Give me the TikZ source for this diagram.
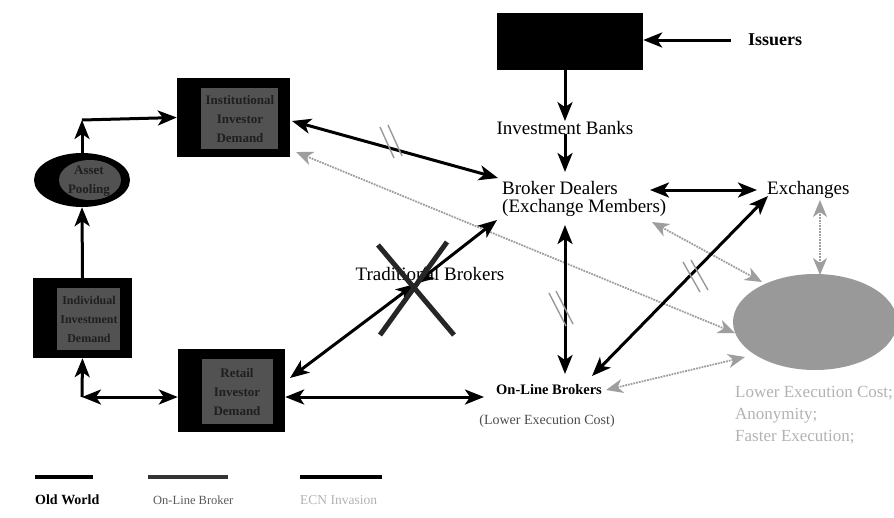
\documentclass[tikz,border=0pt]{standalone}
\usepackage{fontspec}
\setmainfont{Liberation Serif}
\usetikzlibrary{arrows.meta,shapes.geometric}

\tikzset{
  >={Stealth[length=19pt,width=15pt,inset=5pt]},
  lbl/.style={font=\fontsize{19}{21}\selectfont, inner sep=0pt},
  blk/.style={draw=black, line width=3pt},
  gry/.style={draw=black!38, line width=1.8pt, densely dotted,
    arrows={Stealth[length=17pt,width=14pt,inset=5pt]-Stealth[length=17pt,width=14pt,inset=5pt]}},
  brk/.style={draw=black!40, line width=1.4pt},
  dbox/.style={rectangle, fill=black, draw=none, inner sep=0pt,
    path picture={\fill[black!68]
      ([xshift=24pt,yshift=-10pt]path picture bounding box.north west) rectangle
      ([xshift=-12pt,yshift=8pt]path picture bounding box.south east);}},
  boxtext/.style={font=\fontsize{13}{19}\selectfont\bfseries, text=black!88, align=center, inner sep=0pt},
  leg/.style={line width=4pt},
}

\begin{document}
\begin{tikzpicture}[x=1pt,y=-1pt]
\useasboundingbox (0,0) rectangle (894,517);

% ---- demand side boxes ----
\node[rectangle, fill=black, minimum width=146pt, minimum height=57pt, inner sep=0pt] (top) at (570,41) {};
\node[dbox, minimum width=113pt, minimum height=79pt] (inst) at (233.5,117.5) {};
\node[boxtext] (instT) at (240,119) {Institutional\\Investor\\Demand};
\node[dbox, minimum width=99pt, minimum height=80pt] (indiv) at (82.5,318) {};
\node[boxtext, font=\fontsize{12}{19}\selectfont\bfseries] (indivT) at (89,319) {Individual\\Investment\\Demand};
\node[dbox, minimum width=107pt, minimum height=83pt] (retail) at (231.5,390.5) {};
\node[boxtext] (retailT) at (237,392) {Retail\\Investor\\Demand};
\node[ellipse, fill=black, minimum width=96pt, minimum height=54pt, inner sep=0pt,
  path picture={\fill[black!68] ([xshift=8pt]path picture bounding box.center) ellipse (31pt and 20pt);}]
  (pool) at (82,180) {};
\node[boxtext] (poolT) at (89,181) {Asset\\Pooling};

% ---- ECN cloud ----
\node[ellipse, fill=black!40, minimum width=164pt, minimum height=96pt, inner sep=0pt] (ecn) at (815,322) {};

% ---- market labels ----
\node[lbl, font=\fontsize{18}{20}\selectfont\bfseries, anchor=west] (iss) at (748,40) {Issuers};
\node[lbl] (ib) at (565,128) {Investment Banks};
\node[lbl, anchor=west] (bd) at (502,188) {Broker Dealers};
\node[lbl, anchor=west] (bdm) at (502,208) {(Exchange Members)};
\node[lbl, anchor=west] (exch) at (767,190) {Exchanges};
\node[lbl] (trad) at (430,274) {Traditional Brokers};
\node[lbl, font=\fontsize{14.5}{17}\selectfont\bfseries] (olb) at (549,390) {On-Line Brokers};
\node[lbl, text=black!70, font=\fontsize{14}{17}\selectfont] (olbc) at (547,421) {(Lower Execution Cost)};
\node[lbl, text=black!30, anchor=west, align=left, font=\fontsize{17}{22}\selectfont] (ecnT) at (735,415)
  {Lower Execution Cost;\\Anonymity;\\Faster Execution;};

% ---- connector end points ----
\coordinate (cTop) at (82,120);
\coordinate (cBot) at (82,397);
\coordinate (xc) at (415,284);
\coordinate (issTail) at (731,40);

% ---- ECN connectors (gray) ----
\draw[gry] (296,152) -- (735,333);
\draw[gry] (652,222) -- (762,282);
\draw[gry] (820,200) -- (820,275);
\draw[gry] (606,390) -- (745,357);

% ---- old world and on-line connectors ----
\draw[blk,->] (issTail) -- (top.east |- issTail);
\draw[blk,->] (ib.north |- top.south) -- (ib.north);
\draw[blk,->] (ib.south) ++(0,-1) -- (565,172);
\draw[blk,<->] (650,190) -- (757,190);
\draw[blk,->] (pool.north) -- (cTop);
\draw[blk,->] (cTop) -- (inst.west);
\draw[blk,->] (indiv.north) -- (pool.south);
\draw[blk,->] (cBot) -- (indiv.south);
\draw[blk,<->] (cBot) -- (retail.west |- cBot);
\draw[blk,<->] (292,121) -- (498,178);
\draw[blk,<->] (290,378) -- (xc);
\draw[blk,<->] (xc) -- (497,220);
\draw[blk,<->] (565,225) -- (565,374);
\draw[blk,<->] (592,376) -- (768,196);
\draw[blk,<->] (retail.east |- cBot) -- (484,397);

% ---- break marks ----
\draw[brk] (380,127) -- (394,158);
\draw[brk] (388,125) -- (402,156);
\draw[brk] (549,293) -- (566,326);
\draw[brk] (556,291) -- (573,324);
\draw[brk] (683,262) -- (700,292);
\draw[brk] (691,260) -- (708,290);

% ---- crossed-out traditional brokers ----
\draw[line width=5pt, black!85] (378,245) -- (454,335);
\draw[line width=5pt, black!85] (447,242) -- (380,335);

% ---- legend ----
\draw[leg, black] (35,477) -- (93,477);
\draw[leg, black!80] (148,477) -- (228,477);
\draw[leg, black] (300,477) -- (382,477);
\node[font=\fontsize{14}{16}\selectfont\bfseries, anchor=west, inner sep=0pt] (lg1) at (35,500) {Old World};
\node[font=\fontsize{12.5}{16}\selectfont, text=black!65, anchor=west, inner sep=0pt] (lg2) at (153,500) {On-Line Broker};
\node[font=\fontsize{13.5}{16}\selectfont, text=black!30, anchor=west, inner sep=0pt] (lg3) at (300,500) {ECN Invasion};
\end{tikzpicture}
\end{document}
